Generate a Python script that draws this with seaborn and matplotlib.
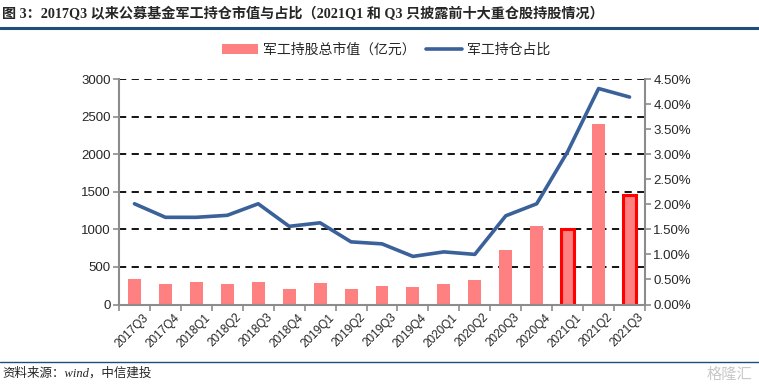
import matplotlib
matplotlib.use("Agg")
import matplotlib.pyplot as plt
import seaborn as sns
import pandas as pd
import numpy as np
from matplotlib.lines import Line2D
from matplotlib.patches import Patch
import matplotlib.transforms as mtransforms

categories = ["2017Q3", "2017Q4", "2018Q1", "2018Q2", "2018Q3", "2018Q4",
              "2019Q1", "2019Q2", "2019Q3", "2019Q4", "2020Q1", "2020Q2",
              "2020Q3", "2020Q4", "2021Q1", "2021Q2", "2021Q3"]
market_value = [335, 270, 295, 270, 295, 200, 280, 200, 250, 230, 275, 330,
                730, 1045, 1000, 2395, 1460]
holding_ratio = [2.01, 1.74, 1.74, 1.78, 2.01, 1.56, 1.63, 1.25, 1.21, 0.96,
                 1.05, 1.00, 1.77, 2.01, 3.05, 4.31, 4.14]
highlight = ["2021Q1", "2021Q3"]

title = "图 3：2017Q3 以来公募基金军工持仓市值与占比（2021Q1 和 Q3 只披露前十大重仓股持股情况）"
bar_label = "军工持股总市值（亿元）"
line_label = "军工持仓占比"
source = "资料来源：wind，中信建投"

sns.set_theme(style="white")
plt.rcParams['font.family'] = ['Liberation Sans', 'Noto Sans CJK SC', 'DejaVu Sans']

df = pd.DataFrame({"q": categories, "v": market_value, "r": holding_ratio})

fig = plt.figure(figsize=(7.59, 3.89), dpi=100)
ax = fig.add_axes([119/759, 1-304.5/389, (645-119)/759, (304.5-79)/389])

bar_color = "#FF8080"
line_color = "#3A6199"
axis_gray = "#8C8C8C"

sns.barplot(data=df, x="q", y="v", color=bar_color, width=0.42, ax=ax,
            saturation=1, edgecolor="none")
for patch, c in zip(ax.patches, categories):
    if c in highlight:
        patch.set_edgecolor("#FF0000")
        patch.set_linewidth(2.2)

ax.set_ylim(0, 3000)
ax.set_xlim(-0.5, len(categories) - 0.5)
ax.set_yticks(range(0, 3001, 500))
ax.set_axisbelow(True)
for yv in range(500, 3001, 500):
    ax.axhline(yv, color="black", linestyle=(0, (4, 3)), linewidth=1.3, zorder=0)
ax.set_xlabel("")
ax.set_ylabel("")

ax2 = ax.twinx()
sns.lineplot(x=np.arange(len(categories)), y=np.array(holding_ratio) / 100, ax=ax2,
             color=line_color, linewidth=2.6)
ax2.set_ylim(0, 0.045)
ax2.set_yticks(np.arange(0, 0.0451, 0.005))
ax2.set_yticklabels([f"{v*100:.2f}%" for v in np.arange(0, 0.0451, 0.005)])
ax2.set_ylabel("")
ax2.set_xlim(-0.5, len(categories) - 0.5)

for a in (ax, ax2):
    a.spines["top"].set_visible(False)
    for s in ("left", "right", "bottom"):
        a.spines[s].set_color(axis_gray)
        a.spines[s].set_linewidth(1.5)
ax.spines["right"].set_visible(False)
ax2.spines["left"].set_visible(False)
ax2.spines["bottom"].set_visible(False)

ax.tick_params(axis="y", which="major", direction="out", length=4, width=1.2,
               color=axis_gray, labelsize=9.5, pad=2, left=True)
ax2.tick_params(axis="y", which="major", direction="out", length=4, width=1.2,
                color=axis_gray, labelsize=9.5, pad=2, right=True)
ax.set_xticks(range(len(categories)))
ax.set_xticklabels(categories, rotation=45, ha="right", rotation_mode="anchor",
                   fontsize=8.5)
ax.tick_params(axis="x", which="major", length=0, pad=5)
ax.set_xticks(np.arange(-0.5, len(categories), 1), minor=True)
ax.tick_params(axis="x", which="minor", direction="out", length=4, width=1.2,
               color=axis_gray, bottom=True)
offset = mtransforms.ScaledTranslation(8/100, 0, fig.dpi_scale_trans)
for lbl in ax.get_xticklabels():
    lbl.set_transform(lbl.get_transform() + offset)

handles = [Patch(facecolor=bar_color, edgecolor="none"),
           Line2D([0], [0], color=line_color, linewidth=2.6)]
fig.legend(handles, [bar_label, line_label], loc="center",
           bbox_to_anchor=(386/759, 1-50/389), ncol=2, frameon=False,
           fontsize=10, handlelength=2.6, handletextpad=0.3, columnspacing=0.8)

fig.text(2/759, 1-14/389, title, fontsize=10.2, fontweight="bold",
         ha="left", va="center",
         family=['Liberation Serif', 'Noto Sans CJK SC', 'DejaVu Sans'])
fig.add_artist(Line2D([0, 1], [1-28/389, 1-28/389], color="#1F4E79", linewidth=2.2,
                      transform=fig.transFigure))
fig.add_artist(Line2D([0, 1], [1-362/389, 1-362/389], color="#1F4E79", linewidth=1.0,
                      transform=fig.transFigure))
fig.text(2/759, 1-373/389, source, fontsize=9, style="italic", ha="left",
         va="center", family=['Liberation Serif', 'Noto Sans CJK SC', 'DejaVu Sans'])
fig.text(752/759, 1-374/389, "格隆汇", fontsize=11, color="#C8C8C8", ha="right",
         va="center", family=['Noto Sans CJK SC', 'DejaVu Sans'])

fig.savefig("out.png", dpi=100)
